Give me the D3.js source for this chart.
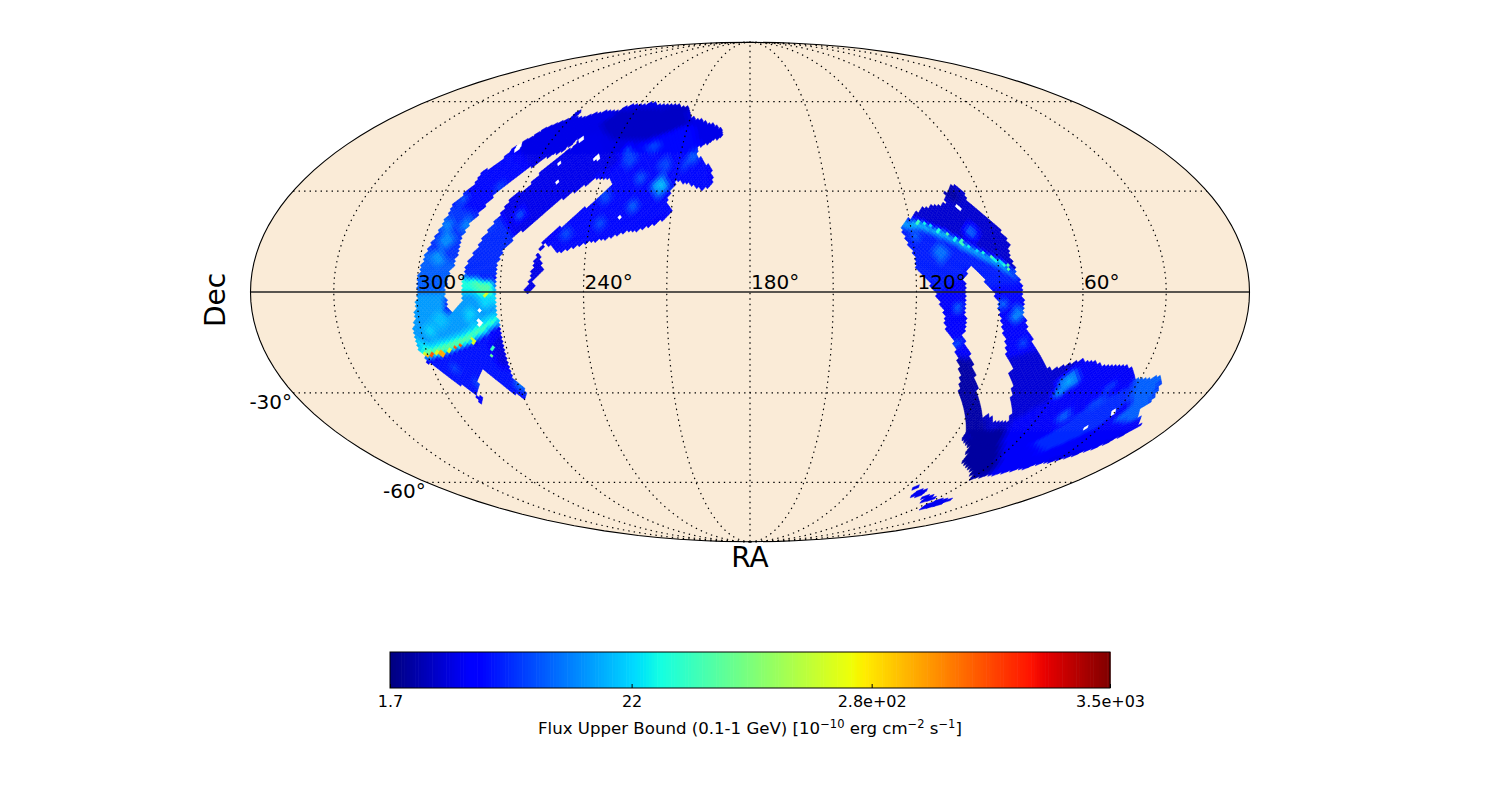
<!DOCTYPE html>
<html><head><meta charset="utf-8"><script src="https://cdn.jsdelivr.net/npm/d3@7"></script>
<style>html,body{margin:0;background:#fff}svg{display:block}text{font-family:"DejaVu Sans";fill:#000}</style></head>
<body><svg id="c" width="1500" height="800"></svg>
<script>
// ---- axes and labels (RA / Dec in degrees)
const raTicks=[300,240,180,120,60];
const raGrid=[30,60,90,120,150,180,210,240,270,300,330];
const decGrid=[-60,-30,30,60];
const decTicks=[-30,-60];
const cbarTicks=[1.7,22,280,3500];
const cbarLabels=["1.7","22","2.8e+02","3.5e+03"];
const fluxMin=1.7,fluxMax=3500;
// ---- exposure outlines as [RA,Dec]
const leftOutline=[[268.9,56.8],[267.0,53.2],[257.5,55.7],[249.6,56.4],[243.6,58.7],[233.1,59.0],[213.8,57.9],[210.3,54.3],[201.0,52.2],[193.3,50.1],[193.0,48.0],[203.5,44.0],[202.9,41.4],[195.8,37.2],[194.8,31.9],[199.0,30.6],[209.5,33.4],[211.4,29.4],[212.0,26.3],[209.7,23.3],[214.9,20.3],[221.0,18.2],[225.7,17.6],[232.5,15.8],[240.0,14.4],[246.0,12.9],[249.4,11.4],[252.6,13.2],[255.4,14.4],[256.7,11.4],[255.0,6.4],[258.4,3.5],[257.6,1.5],[260.1,-0.9],[261.2,0.0],[259.5,3.5],[258.6,7.0],[257.4,11.4],[255.6,15.2],[253.1,17.3],[246.9,22.1],[240.7,26.6],[237.2,30.0],[234.9,31.2],[236.6,33.7],[242.0,34.0],[249.9,29.4],[256.7,25.1],[261.5,20.6],[266.9,16.1],[269.8,12.9],[271.5,8.5],[272.1,1.3],[272.1,-3.2],[271.2,-9.1],[270.8,-14.1],[270.7,-20.0],[270.9,-25.1],[267.9,-28.5],[269.6,-32.8],[281.6,-22.7],[287.7,-30.0],[289.5,-33.1],[288.0,-33.7],[286.3,-31.5],[288.1,-30.6],[289.4,-29.7],[293.1,-26.9],[296.9,-23.6],[299.6,-21.5],[301.4,-20.6],[301.2,-19.4],[302.8,-16.1],[303.1,-11.7],[301.8,-9.1],[300.7,-4.7],[299.8,0.6],[299.5,6.4],[297.8,12.3],[294.9,19.7],[293.9,26.3],[290.5,31.2],[289.8,35.9],[285.6,39.1],[284.2,43.3],[281.3,46.3],[277.0,50.4],[271.0,53.2]];
const leftChannel=[[257.4,48.0],[259.5,45.3],[262.0,43.0],[267.0,40.7],[271.4,37.2],[275.6,33.4],[278.8,30.3],[281.3,26.6],[283.1,22.7],[286.1,18.2],[287.1,8.5],[289.4,4.3],[290.0,-0.3],[288.6,-6.1],[283.6,-3.2],[283.6,3.5],[282.7,7.9],[279.7,13.2],[278.2,16.7],[274.8,22.7],[272.7,27.9],[268.2,31.2],[265.5,36.6],[261.9,41.4],[257.2,44.7]];
const rightOutline=[[118.4,22.1],[114.9,24.8],[108.0,25.7],[104.7,26.3],[103.6,29.4],[99.4,31.9],[96.2,30.3],[95.7,26.6],[89.6,21.2],[86.9,18.2],[85.0,14.7],[85.3,10.2],[83.8,5.5],[81.9,1.5],[81.2,-6.1],[78.3,-12.0],[71.7,-19.1],[66.1,-23.0],[56.3,-20.0],[49.6,-20.6],[46.0,-23.0],[46.9,-21.5],[36.3,-22.1],[32.9,-25.4],[27.5,-25.4],[22.0,-25.1],[19.8,-29.7],[19.1,-33.7],[22.0,-34.7],[13.9,-40.1],[16.0,-43.3],[20.5,-47.3],[26.3,-50.1],[40.1,-54.3],[52.9,-57.2],[60.2,-58.3],[63.4,-56.4],[75.2,-52.5],[75.3,-51.1],[79.8,-47.3],[86.1,-44.0],[86.1,-42.7],[92.8,-35.3],[98.0,-30.0],[99.4,-25.1],[102.7,-19.1],[105.4,-14.1],[109.8,-9.1],[109.3,-7.3],[112.1,-2.3],[115.7,3.5],[119.5,6.4],[119.9,9.9],[123.2,17.3],[123.0,20.3]];
const rightVoid=[[100.2,7.9],[102.7,4.1],[102.4,-3.2],[101.7,-10.2],[102.3,-13.2],[99.8,-16.1],[95.7,-22.1],[90.5,-30.0],[82.9,-37.5],[80.6,-36.9],[77.5,-39.4],[70.2,-39.1],[76.7,-31.2],[76.5,-29.7],[81.6,-23.9],[80.1,-23.0],[84.0,-19.1],[88.2,-10.2],[90.9,-2.3],[93.4,1.5]];
const islands=[
 [[85.1,-62.5],[83.5,-60.9],[81.6,-61.3],[82.5,-62.8]],
 [[79.8,-65.6],[78.7,-63.2],[75.4,-62.8],[75.2,-65.2]],
 [[71.6,-65.6],[67.7,-65.2],[62.2,-66.0],[65.0,-67.3]],
 [[58.2,-70.2],[58.4,-67.3],[51.3,-66.4],[49.1,-68.9],[54.6,-70.2]]];
// ---- flux zones, painted in order: [flux, polygon]
const leftBaseFlux=3.4, rightBaseFlux=2.9, islandFlux=3.6;
const zoneFlux=[4.6,2.7,3.5,4.6,6.5,9,6,5,3.3,14,25,60,150,22,30,50, 5.5,4,2.2,4.5,3,2.1,3.8,6,9,18];
const zones=[
 [[242.5,35.0],[237.0,36.6],[229.1,44.7],[209.1,51.5],[196.8,38.2],[194.8,31.9],[199.0,30.6],[209.5,33.4],[211.4,29.4],[209.7,23.3],[221.0,18.2],[238.9,14.4],[249.4,11.4],[256.8,12.3],[239.0,29.7]],
 [[248.0,56.4],[213.8,57.9],[209.1,51.5],[225.4,46.3],[243.6,46.3],[252.7,51.5]],
 [[256.5,48.0],[249.5,48.0],[240.7,38.2],[242.0,34.0],[249.9,29.4],[256.7,25.1],[261.5,20.6],[266.9,16.1],[272.2,15.2],[278.2,16.7],[274.8,22.7],[272.7,27.9],[268.2,31.2],[265.5,36.6],[261.9,41.4],[257.2,44.7]],
 [[284.2,43.3],[285.6,39.1],[289.8,35.9],[290.5,31.2],[293.9,26.3],[283.1,22.7],[281.3,26.6],[278.8,30.3],[275.6,33.4],[271.4,37.2]],
 [[293.9,26.3],[294.9,19.7],[297.8,12.3],[287.1,8.5],[286.1,18.2],[283.1,22.7]],
 [[297.8,12.3],[299.5,6.4],[299.8,0.0],[290.0,0.0],[289.4,3.5],[287.1,8.5]],
 [[274.8,22.7],[266.9,16.1],[269.8,12.9],[271.5,8.5],[272.1,4.1],[283.7,4.1],[282.7,7.9],[279.7,13.2],[278.2,16.7]],
 [[301.4,-20.6],[294.9,-18.8],[287.4,-16.7],[282.5,-15.2],[275.0,-11.7],[271.4,-11.7],[270.9,-25.1],[267.9,-28.5],[269.6,-32.8],[281.6,-22.7],[287.7,-30.0],[288.0,-33.7],[289.4,-29.7],[293.1,-26.9],[296.9,-23.6]],
 [[272.5,-11.7],[270.8,-14.1],[270.8,-22.1],[274.5,-22.1],[276.0,-15.5]],
 [[299.8,0.0],[290.0,0.0],[290.4,-6.1],[288.6,-6.1],[283.6,-3.2],[283.5,0.0],[272.0,0.0],[271.2,-9.1],[274.9,-11.1],[282.3,-14.7],[287.2,-16.1],[294.7,-18.2],[300.8,-19.4],[302.8,-16.1],[303.1,-11.7],[300.7,-4.7]],
 [[271.6,-5.8],[278.1,-8.8],[285.3,-12.0],[292.1,-14.1],[298.9,-15.5],[302.9,-13.5],[302.8,-16.1],[300.8,-19.4],[294.7,-18.2],[287.2,-16.1],[282.3,-14.7],[274.9,-11.1],[271.2,-9.1]],
 [[271.5,-8.2],[278.5,-11.1],[284.6,-13.5],[292.8,-16.1],[299.6,-17.6],[302.3,-16.7],[300.8,-19.4],[294.7,-18.2],[287.2,-16.1],[282.3,-14.7],[274.9,-11.1],[271.2,-9.1]],
 [[282.9,-14.1],[289.0,-15.8],[295.1,-17.3],[300.6,-18.2],[300.8,-19.4],[294.7,-18.2],[287.2,-16.1],[282.3,-14.7]],
 [[281.0,0.0],[272.0,0.0],[272.1,-3.8],[278.2,-2.3]],
 [[283.7,4.4],[272.8,2.9],[272.0,0.0],[283.5,0.0]],
 [[282.9,3.8],[272.8,2.3],[272.3,0.0],[275.6,-1.2],[278.5,0.9]],
 [[123.0,20.3],[118.7,20.9],[115.1,20.3],[108.4,17.3],[101.9,13.2],[92.6,9.9],[85.8,6.4],[81.5,2.6],[81.8,-2.3],[93.4,1.5],[100.2,7.9],[103.0,4.1],[112.2,-1.2],[115.7,3.5],[119.5,6.4],[119.9,9.9],[123.2,17.3]],
 [[112.2,-1.2],[103.0,4.1],[101.7,-10.2],[102.3,-13.2],[99.8,-16.1],[97.5,-20.0],[102.7,-19.1],[105.4,-14.1],[109.8,-9.1],[109.3,-7.3]],
 [[102.7,-19.1],[97.5,-20.0],[90.5,-30.0],[82.9,-37.5],[74.8,-45.0],[86.1,-42.7],[98.0,-30.0],[99.4,-25.1]],
 [[93.4,1.5],[81.5,2.6],[81.2,-6.1],[78.3,-12.0],[74.3,-17.0],[83.3,-20.0],[88.2,-10.2],[90.9,-2.3]],
 [[84.0,-19.1],[74.3,-17.0],[66.1,-23.0],[56.0,-32.2],[70.8,-38.5],[80.1,-23.0]],
 [[86.1,-42.7],[71.8,-41.7],[61.4,-46.7],[51.6,-55.4],[60.2,-58.3],[75.2,-52.5],[79.8,-47.3]],
 [[70.2,-39.1],[60.0,-32.2],[56.3,-20.0],[36.3,-22.1],[22.5,-25.4],[13.9,-40.1],[20.5,-47.3],[40.1,-54.3],[52.9,-57.2],[66.0,-46.7]],
 [[52.3,-46.7],[42.5,-33.7],[32.3,-27.5],[27.6,-30.6],[30.8,-41.7],[42.0,-50.1]],
 [[32.9,-25.4],[22.0,-25.1],[19.1,-33.7],[17.1,-38.5],[22.4,-40.1]],
 [[123,20.3],[117.2,21.2],[107,17.4],[97.4,12.7],[89.2,9.2],[84,5.5],[84.5,4.5],[89,6.9],[97.4,10.4],[107,15],[117.2,18.8],[122,18.8]]];
// ---- brighter and darker patches: [RA, Dec, radius, flux]
const patches=[
 [215.8,31.5,3.6,11],[215.8,31.5,2,18],[231.0,39.8,3,7],[215.6,38.2,3,7],[224.6,34.0,2.5,7.5],[225.0,25.7,2.5,8],[236.2,19.7,2.5,7],[207.2,38.2,2,6.5],
 [204.5,40.7,2.5,8],[222.7,43.7,2.5,7],[233.5,42,2.5,7],[235.8,27.9,2.5,7],[247.9,16.8,2.5,7],[279.8,31.9,2,6.5],[293,19.2,2.5,11],
 [267.2,22.7,3,7],[277.3,19.7,2,7],[286.7,19.7,2.5,11],[291.7,15.2,3,12],[293.6,9.9,3,13],[290.6,27.2,2,8],[269.4,-27.5,2,10],[285.7,-27.5,2,7],[292.0,-23.0,2,7],
 [292.5,-8.2,3,18],[296.8,-11.1,2.5,20],[281.4,-6.7,3,20],[275.7,-3.8,2,22],
 [98.3,17.6,3.2,7],[98.3,17.6,1.6,10],[100.9,28.8,3,2.2],[110.6,11.4,3.5,10],[118.9,16.7,2,9],[105.2,-4.7,2.5,8],[103.4,-14.7,2,7],
 [83.3,-6.7,3,11],[88.6,-3.2,2,9],[79.4,-14.9,2,7],[57.0,-26.6,4,10],[57.0,-26.6,2,15],[57.8,-30.0,2.5,11],[49.6,-37.5,3,8],[24.6,-37.5,3,9],[39.6,-28.2,3,6],[40.3,-33,3,7]];
// ---- single hot pixels along the edges: [RA, Dec, flux]
const hotPixels=[[299.8,-18.8,400],[298.3,-18.8,900],[294.7,-18.2,450],[288.9,-16.7,900],[286.9,-16.1,900],[300.8,-18.5,170],[296.2,-18.2,170],[291.4,-17.3,170],[281.9,-14.4,170],[275.2,-0.9,170],[275.2,-16.7,40],[275.9,-18.8,60],
 [117.2,20.6,40],[115,20,28],[112.7,19.4,22],[110,18,30],[107.0,16.7,50],[104.5,15.5,28],[102.0,14.4,40],[99.7,13.2,28],[97.4,12.0,22],[95,11,30],[92.6,10.2,50],[91,9.4,28],[89.2,8.5,22],[87.8,7.9,30],[86.5,7.3,50]];
// ---- unobserved pixels inside the swaths: [RA, Dec]
const emptyPixels=[[256.3,46.3],[260.0,38.8],[245.4,40.4],[257.4,32.5],[229.1,21.8],[277.7,-5.8],[277.9,-8.5],[277.9,-9.6],[282.4,43.7],[100.3,24.8],[30.8,-36.2],[35.6,-40.7]];

// ---- jet colour map
const jetStops={r:[[0,0],[.35,0],[.66,1],[.89,1],[1,.5]],g:[[0,0],[.125,0],[.375,1],[.64,1],[.91,0],[1,0]],b:[[0,.5],[.11,1],[.34,1],[.65,0],[1,0]]};
const ch=k=>d3.scaleLinear().domain(jetStops[k].map(d=>d[0])).range(jetStops[k].map(d=>d[1])).clamp(true);
const cr=ch("r"),cg=ch("g"),cb=ch("b");
const frac=d3.scaleLog().domain([fluxMin,fluxMax]).range([0,1]).clamp(true);
const jet=t=>d3.rgb(cr(t)*255,cg(t)*255,cb(t)*255).formatHex();

// ---- Mollweide through d3.geoProjection
function moll(l,p){let t=p;if(Math.abs(Math.abs(p)-Math.PI/2)>=1e-7){for(let i=0;i<30;i++){const d=(2*t+Math.sin(2*t)-Math.PI*Math.sin(p))/(2+2*Math.cos(2*t));t-=d;if(Math.abs(d)<1e-8)break}}
 return [2*Math.SQRT2/Math.PI*l*Math.cos(t),Math.SQRT2*Math.sin(t)]}
const W=499.5,cx=750,cy=292;
const proj=d3.geoProjection(moll).scale(W/(2*Math.SQRT2)).translate([cx,cy]).precision(.2);
const P=([ra,dec])=>proj([180-ra,dec]);
const path=d3.geoPath(proj);
const svg=d3.select("#c");
const line=d3.line();

svg.append("path").datum({type:"Sphere"}).attr("d",path).attr("fill","#FAEBD7");

// ---- pixel grid on the sphere
const N=64;
const ringZ=i=>i<N?1-i*i/(3*N*N):i<=3*N?4/3-2*i/(3*N):-(1-(4*N-i)*(4*N-i)/(3*N*N));
const deg=z=>Math.asin(Math.max(-1,Math.min(1,z)))*180/Math.PI;
const inPoly=(poly,pt)=>d3.polygonContains(poly,pt);
const near=(pt,ra,dec,r)=>Math.abs(pt[0]-ra)*Math.cos(dec*Math.PI/180)+Math.abs(pt[1]-dec)<=r;
const cells=[];
for(let i=2;i<4*N-1;i++){
 const dec=deg(ringZ(i));
 if(dec>62||dec<-72)continue;
 const cap=i<N||i>3*N;
 const grow=cap?1.45:1;
 const n=i<N?4*i:i<=3*N?4*N:4*(4*N-i);
 const dp=360/n;
 const off=(i>=N&&i<=3*N)?(((i-N+1)%2)?0:.5):.5;
 for(let k=0;k<n;k++){
  const ra=(k+off)*dp,pt=[ra,dec];
  let f=null;
  if(inPoly(leftOutline,pt)&&!inPoly(leftChannel,pt))f=leftBaseFlux;
  else if(inPoly(rightOutline,pt)&&!inPoly(rightVoid,pt))f=rightBaseFlux;
  else if(islands.some(q=>inPoly(q,pt)))f=islandFlux;
  if(f===null)continue;
  zones.forEach((z,j)=>{if(inPoly(z,pt))f=zoneFlux[j]});
  patches.forEach(q=>{if(near(pt,q[0],q[1],q[2]))f=q[3]});
  const nDec=dec+(deg(ringZ(i-1))-dec)*grow,sDec=dec+(deg(ringZ(i+1))-dec)*grow,hw=dp/2*grow;
  const corners=[[ra,nDec],[ra+hw,dec],[ra,sDec],[ra-hw,dec]].map(P);
  cells.push({pt,lf:Math.log(f),d:line(corners)+"Z"});
 }
}
// beam smoothing of the map: mean log flux over the pixels within 1.6 degrees
const bins=d3.group(cells,c=>Math.floor(c.pt[0]/4)+"_"+Math.floor(c.pt[1]/4));
cells.forEach(c=>{
 let s=0,m=0;const a=Math.floor(c.pt[0]/4),b=Math.floor(c.pt[1]/4);
 for(let u=a-1;u<=a+1;u++)for(let v=b-1;v<=b+1;v++){
  (bins.get(u+"_"+v)||[]).forEach(o=>{
   if(near(o.pt,c.pt[0],c.pt[1],1.6)){s+=o.lf;m++}
  });
 }
 c.sm=s/m;
});
cells.forEach(c=>{
 let f=Math.exp(c.sm);
 hotPixels.forEach(q=>{if(near(c.pt,q[0],q[1],.8))f=q[2]});
 c.col=jet(frac(f));
 c.empty=emptyPixels.some(q=>near(c.pt,q[0],q[1],.75));
 if(c.empty)c.col="#ffffff";
});
cells.sort((a,b)=>a.empty-b.empty);
svg.append("g").selectAll("path").data(cells).join("path").attr("d",d=>d.d).attr("fill",d=>d.col).attr("stroke",d=>d.col).attr("stroke-width",.5);

// ---- graticule
const lons=d3.range(-179.99,179.99,2).concat([179.99]);
const grid=svg.append("g").attr("fill","none").attr("stroke","#000").attr("stroke-width",1.2).attr("stroke-dasharray","1.4 4.1");
grid.selectAll("path.m").data(raGrid).join("path").attr("class","m").attr("d",ra=>path({type:"LineString",coordinates:d3.range(-90,90.01,2).map(dec=>[180-ra,dec])}));
grid.selectAll("path.p").data(decGrid).join("path").attr("class","p").attr("d",dec=>path({type:"LineString",coordinates:lons.map(l=>[l,dec])}));
svg.append("path").attr("d",path({type:"LineString",coordinates:lons.map(l=>[l,0])})).attr("fill","none").attr("stroke","#222").attr("stroke-width",1.5);
svg.append("path").datum({type:"Sphere"}).attr("d",path).attr("fill","none").attr("stroke","#000").attr("stroke-width",1.1);

// ---- tick labels
svg.append("g").selectAll("text").data(raTicks).join("text").text(d=>d+"°").attr("x",d=>P([d,0])[0]+1).attr("y",cy-3).attr("font-size",20);
svg.append("g").selectAll("text").data(decTicks).join("text").text(d=>d+"°").attr("x",d=>P([360,d])[0]-1).attr("y",d=>P([360,d])[1]+16).attr("font-size",20).attr("text-anchor","end");
svg.append("text").text("RA").attr("x",750).attr("y",567).attr("font-size",28).attr("text-anchor","middle");
svg.append("text").text("Dec").attr("transform","translate(225,300) rotate(-90)").attr("font-size",28).attr("text-anchor","middle");

// ---- colour bar
const bx=d3.scaleLog().domain([fluxMin,fluxMax]).range([390,1110]);
const steps=d3.range(256);
const bar=svg.append("g");
bar.selectAll("rect").data(steps).join("rect").attr("x",i=>390+i*720/256).attr("y",652).attr("width",720/256+.6).attr("height",36).attr("fill",i=>jet((i+.5)/256));
bar.append("rect").attr("x",390).attr("y",652).attr("width",720).attr("height",36).attr("fill","none").attr("stroke","#000");
const axis=d3.axisBottom(bx).tickValues(cbarTicks).tickFormat((d,i)=>cbarLabels[i]).tickSize(0).tickPadding(0);
const ag=svg.append("g").attr("transform","translate(0,688)").call(axis);
ag.select(".domain").remove();
ag.selectAll("text").attr("font-size",16).attr("y",8).attr("dy",".71em").style("font-family","DejaVu Sans");
ag.selectAll("line").attr("y1",0).attr("y2",-4).attr("stroke","#000");
const lab=svg.append("text").attr("x",750).attr("y",734).attr("text-anchor","middle").attr("font-size",16.6);
[["Flux Upper Bound (0.1-1 GeV) [10",0],["−10",1],[" erg cm",0],["−2",1],[" s",0],["−1",1],["]",0]].forEach(([t,s],i)=>{
 const ts=lab.append("tspan").text(t);
 if(s)ts.attr("font-size",11.5).attr("dy",-6);
 else if(i>0)ts.attr("dy",6);
});
</script></body></html>
